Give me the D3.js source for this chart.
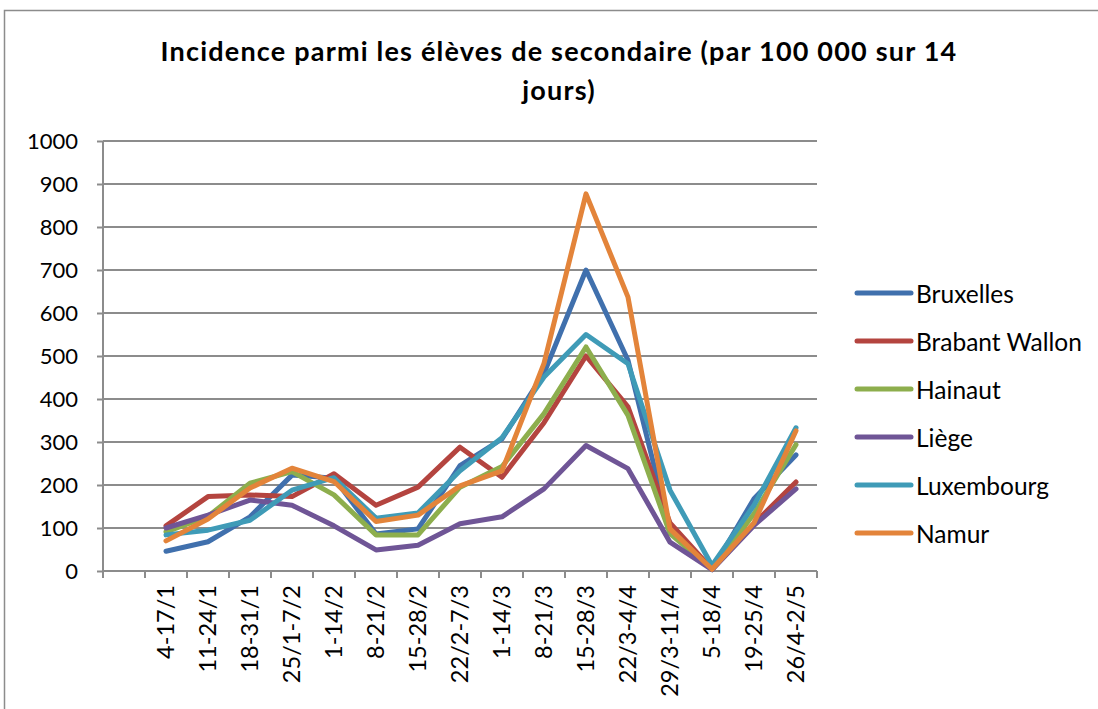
<!DOCTYPE html>
<html lang="fr">
<head>
    <meta charset="UTF-8">
    <title>Incidence parmi les élèves de secondaire</title>
    <script src="https://d3js.org/d3.v7.min.js"></script>
    <style>
        body {
            margin: 0;
            background: #ffffff;
            font-family: Lato, "Noto Sans", sans-serif;
        }
        svg text {
            fill: #000;
        }
        .grid line {
            stroke: #8c8c8c;
            stroke-width: 2;
        }
        .series {
            fill: none;
            stroke-width: 5;
            stroke-linejoin: round;
            stroke-linecap: round;
        }
    </style>
</head>
<body>
    <div id="chart"></div>

    <script>
        // data (first category is empty in the source sheet)
        const categories = ["", "4-17/1", "11-24/1", "18-31/1", "25/1-7/2", "1-14/2", "8-21/2", "15-28/2",
            "22/2-7/3", "1-14/3", "8-21/3", "15-28/3", "22/3-4/4", "29/3-11/4", "5-18/4", "19-25/4", "26/4-2/5"];

        const bruxelles    = [null, 46, 68, 126, 223, 216, 86, 98, 245, 307, 460, 700, 490, 95, 3, 168, 270];
        const brabantWallon = [null, 105, 173, 177, 173, 226, 153, 195, 288, 218, 345, 500, 382, 112, 4, 110, 207];
        const hainaut      = [null, 91, 127, 204, 231, 177, 84, 84, 195, 243, 366, 521, 362, 87, 4, 133, 294];
        const liege        = [null, 100, 130, 165, 153, 105, 49, 60, 110, 126, 191, 292, 238, 67, 3, 106, 191];
        const luxembourg   = [null, 84, 95, 118, 188, 217, 123, 135, 233, 310, 451, 550, 482, 188, 13, 153, 333];
        const namur        = [null, 70, 121, 193, 239, 208, 115, 130, 198, 233, 483, 877, 637, 98, 4, 112, 326];

        const seriesNames = ["Bruxelles", "Brabant Wallon", "Hainaut", "Liège", "Luxembourg", "Namur"];
        const seriesValues = [bruxelles, brabantWallon, hainaut, liege, luxembourg, namur];
        const seriesColors = ["#4070ad", "#b4443f", "#8dae4d", "#6f5596", "#3f9bb7", "#e3843a"];

        const yTicks = [0, 100, 200, 300, 400, 500, 600, 700, 800, 900, 1000];

        const width = 1098;
        const height = 709;
        const plot = { left: 103, right: 817, top: 141, bottom: 571 };

        const svg = d3.select("#chart").append("svg")
            .attr("width", width)
            .attr("height", height);

        // outer chart border (only top and left visible in the crop)
        svg.append("rect")
            .attr("x", 4.5).attr("y", 10.5)
            .attr("width", 1200).attr("height", 800)
            .attr("fill", "none")
            .attr("stroke", "#8c8c8c")
            .attr("stroke-width", 1.5);

        // title
        const title = svg.append("text")
            .attr("text-anchor", "middle")
            .style("font-weight", "bold")
            .style("font-size", "27px")
            .style("letter-spacing", "1.2px");
        title.append("tspan").attr("x", 559).attr("y", 61)
            .text("Incidence parmi les élèves de secondaire (par 100 000 sur 14");
        title.append("tspan").attr("x", 559).attr("y", 100)
            .text("jours)");

        // scales
        const x = d3.scaleBand()
            .domain(categories)
            .range([plot.left, plot.right]);

        const y = d3.scaleLinear()
            .domain([0, 1000])
            .range([plot.bottom, plot.top]);

        // horizontal gridlines
        svg.append("g")
            .attr("class", "grid")
            .selectAll("line")
            .data(yTicks)
            .enter().append("line")
            .attr("x1", plot.left)
            .attr("x2", plot.right)
            .attr("y1", d => y(d))
            .attr("y2", d => y(d));

        // y axis
        const yAxis = svg.append("g")
            .attr("transform", `translate(${plot.left}, 0)`)
            .call(d3.axisLeft(y).tickValues(yTicks).tickFormat(d3.format("d")).tickSize(6).tickPadding(19));
        yAxis.selectAll("line, path").attr("stroke", "#8c8c8c").attr("stroke-width", 2);
        yAxis.select(".domain").attr("d", `M0,${plot.top}V${plot.bottom}`);
        yAxis.selectAll("text")
            .style("font-family", "Lato, sans-serif")
            .style("font-size", "22px")
            .attr("fill", "#000");

        // x axis: ticks on band boundaries
        const xAxis = svg.append("g").attr("transform", `translate(0, ${plot.bottom})`);
        xAxis.append("path")
            .attr("d", `M${plot.left},0H${plot.right}`)
            .attr("stroke", "#8c8c8c")
            .attr("stroke-width", 2);
        const bounds = categories.map(c => x(c)).concat([plot.right]);
        xAxis.selectAll(".tick")
            .data(bounds)
            .enter().append("line")
            .attr("x1", d => d).attr("x2", d => d)
            .attr("y1", 0).attr("y2", 7)
            .attr("stroke", "#8c8c8c")
            .attr("stroke-width", 2);
        xAxis.selectAll(".xlabel")
            .data(categories)
            .enter().append("text")
            .attr("transform", d => `translate(${x(d) + x.bandwidth() / 2 + 8}, 14) rotate(-90)`)
            .attr("text-anchor", "end")
            .style("font-size", "23.5px")
            .text(d => d);

        // series lines
        const line = d3.line()
            .defined(d => d.v !== null)
            .x(d => x(d.c) + x.bandwidth() / 2)
            .y(d => y(d.v));

        seriesValues.forEach((vals, i) => {
            svg.append("path")
                .datum(vals.map((v, j) => ({ c: categories[j], v: v })))
                .attr("class", "series")
                .attr("stroke", seriesColors[i])
                .attr("d", line);
        });

        // legend
        const legend = svg.append("g");
        seriesNames.forEach((name, i) => {
            const ly = 293 + i * 48;
            legend.append("line")
                .attr("x1", 857).attr("x2", 911)
                .attr("y1", ly).attr("y2", ly)
                .attr("stroke", seriesColors[i])
                .attr("stroke-width", 5)
                .attr("stroke-linecap", "round");
            legend.append("text")
                .attr("x", 916).attr("y", ly)
                .attr("dominant-baseline", "central")
                .style("font-size", "24.5px")
                .text(name);
        });
    </script>
</body>
</html>
